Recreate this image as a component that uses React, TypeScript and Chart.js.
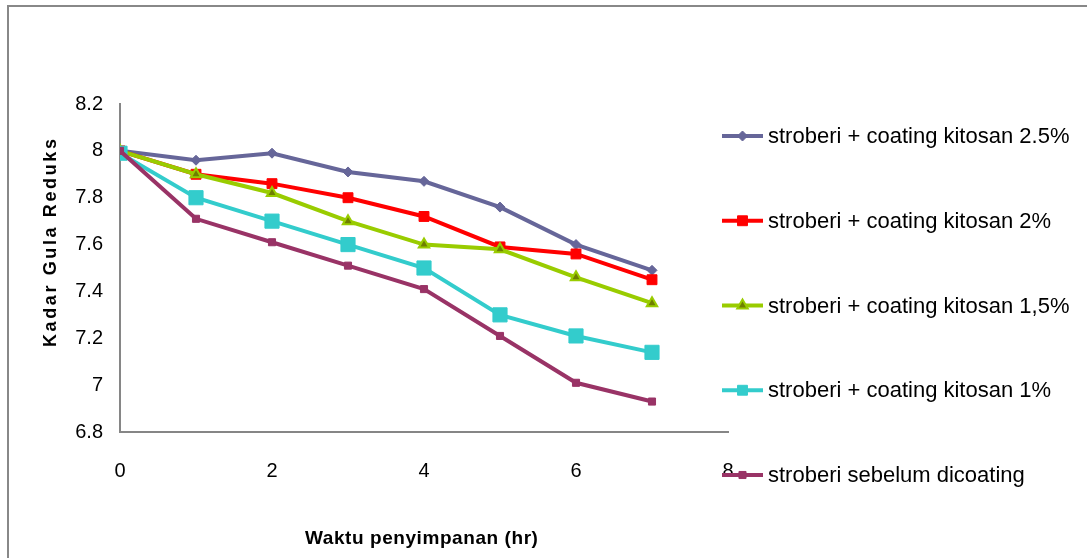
import React, { useEffect, useRef } from "react";
import { Chart, registerables } from "chart.js";

Chart.register(...registerables);

// ---- data ----
const days = [0, 1, 2, 3, 4, 5, 6, 7];
const seriesNames = [
  "stroberi + coating kitosan 2.5%",
  "stroberi + coating kitosan 2%",
  "stroberi + coating kitosan 1,5%",
  "stroberi + coating kitosan 1%",
  "stroberi sebelum dicoating",
];
const kitosan25 = [8.0, 7.96, 7.99, 7.91, 7.87, 7.76, 7.6, 7.49];
const kitosan20 = [8.0, 7.9, 7.86, 7.8, 7.72, 7.59, 7.56, 7.45];
const kitosan15 = [8.0, 7.9, 7.82, 7.7, 7.6, 7.58, 7.46, 7.35];
const kitosan10 = [7.99, 7.8, 7.7, 7.6, 7.5, 7.3, 7.21, 7.14];
const tanpaCoating = [8.0, 7.71, 7.61, 7.51, 7.41, 7.21, 7.01, 6.93];
const xTickValues = [0, 2, 4, 6, 8];
const yTickValues = [6.8, 7.0, 7.2, 7.4, 7.6, 7.8, 8.0, 8.2];
const xTitle = "Waktu penyimpanan (hr)";
const yTitle = "Kadar Gula Reduks";

// ---- styles ----
const W = 1087;
const H = 558;
const colors = ["#666699", "#FF0000", "#99CC00", "#33CCCC", "#993366"];
const pointFill = ["#666699", "#FF0000", "#6E7F00", "#33CCCC", "#993366"];
const pointStyles = ["rectRot", "rect", "triangle", "rect", "rect"];
const pointRadii = [5, 7, 6, 10, 5];
const FONT = '"Liberation Sans", Arial, sans-serif';

function fitSpacing(ctx: CanvasRenderingContext2D, text: string, target: number) {
  (ctx as any).letterSpacing = "0px";
  const w = ctx.measureText(text).width;
  const sp = Math.max(-1, (target - w) / Math.max(1, text.length - 1));
  (ctx as any).letterSpacing = sp.toFixed(2) + "px";
  return sp;
}

function drawMarker(ctx: CanvasRenderingContext2D, i: number, x: number, y: number, r: number) {
  ctx.save();
  ctx.fillStyle = pointFill[i];
  ctx.strokeStyle = colors[i];
  ctx.lineWidth = i === 2 ? 2 : 1;
  ctx.beginPath();
  const st = pointStyles[i];
  if (st === "rect") {
    const s = Math.SQRT1_2 * r;
    ctx.rect(x - s, y - s, 2 * s, 2 * s);
  } else if (st === "rectRot") {
    ctx.moveTo(x - r, y);
    ctx.lineTo(x, y - r);
    ctx.lineTo(x + r, y);
    ctx.lineTo(x, y + r);
    ctx.closePath();
  } else {
    ctx.moveTo(x, y - r);
    ctx.lineTo(x + r * 0.87, y + r * 0.5);
    ctx.lineTo(x - r * 0.87, y + r * 0.5);
    ctx.closePath();
  }
  ctx.fill();
  ctx.stroke();
  ctx.restore();
}

const decorPlugin = {
  id: "decor",
  beforeDraw(chart: any) {
    const ctx: CanvasRenderingContext2D = chart.ctx;
    ctx.save();
    ctx.fillStyle = "#ffffff";
    ctx.fillRect(0, 0, W, H);
    ctx.strokeStyle = "#888888";
    ctx.lineWidth = 2;
    ctx.beginPath();
    ctx.moveTo(8, H);
    ctx.lineTo(8, 6);
    ctx.lineTo(W, 6);
    ctx.stroke();
    ctx.restore();
  },
  afterDraw(chart: any) {
    const ctx: CanvasRenderingContext2D = chart.ctx;
    const area = chart.chartArea;
    // axis titles
    ctx.save();
    ctx.fillStyle = "#000000";
    ctx.font = "bold 19px " + FONT;
    ctx.textAlign = "left";
    ctx.textBaseline = "middle";
    fitSpacing(ctx, xTitle, 233);
    ctx.fillText(xTitle, 305, 539);
    ctx.restore();

    ctx.save();
    ctx.fillStyle = "#000000";
    ctx.font = "bold 18px " + FONT;
    ctx.translate(51, 347);
    ctx.rotate(-Math.PI / 2);
    ctx.textAlign = "left";
    ctx.textBaseline = "middle";
    fitSpacing(ctx, yTitle, 208);
    ctx.fillText(yTitle, 0, 0);
    ctx.restore();

    // legend
    const lx0 = area.right - 6;
    const lx1 = lx0 + 41;
    const tx = lx1 + 5;
    const top = 136;
    const gap = 84.75;
    seriesNames.forEach((name, i) => {
      const y = top + gap * i;
      ctx.save();
      ctx.strokeStyle = colors[i];
      ctx.lineWidth = 4;
      ctx.beginPath();
      ctx.moveTo(lx0, y);
      ctx.lineTo(lx1, y);
      ctx.stroke();
      ctx.restore();
      drawMarker(ctx, i, (lx0 + lx1) / 2, y, Math.min(pointRadii[i], 7));
      ctx.save();
      ctx.fillStyle = "#000000";
      ctx.font = "22px " + FONT;
      ctx.textAlign = "left";
      ctx.textBaseline = "middle";
      fitSpacing(ctx, name, ctx.measureText(name).width);
      ctx.fillText(name, tx, y + 1);
      ctx.restore();
    });
  },
};

export default function App() {
  const ref = useRef<HTMLCanvasElement | null>(null);

  useEffect(() => {
    document.body.style.margin = "0";
    const canvas = ref.current;
    if (!canvas) return;
    const allSeries = [kitosan25, kitosan20, kitosan15, kitosan10, tanpaCoating];
    const chart = new Chart(canvas, {
      type: "line",
      data: {
        datasets: allSeries.map((vals, i) => ({
          label: seriesNames[i],
          data: days.map((d, k) => ({ x: d, y: vals[k] })),
          borderColor: colors[i],
          backgroundColor: pointFill[i],
          borderWidth: 4,
          pointStyle: pointStyles[i] as any,
          pointRadius: pointRadii[i],
          pointBackgroundColor: pointFill[i],
          pointBorderColor: colors[i],
          pointBorderWidth: i === 2 ? 2 : 1,
          tension: 0,
          order: allSeries.length - 1 - i,
        })),
      },
      options: {
        responsive: false,
        animation: false,
        devicePixelRatio: 1,
        layout: { padding: { left: 0, top: 104, right: W - 728, bottom: 0 } },
        plugins: {
          legend: { display: false },
          tooltip: { enabled: false },
          title: { display: false },
        },
        scales: {
          x: {
            type: "linear",
            min: 0,
            max: 8,
            afterBuildTicks: (axis: any) => {
              axis.ticks = xTickValues.map((v) => ({ value: v }));
            },
            afterFit: (axis: any) => {
              axis.height = H - 432;
            },
            grid: { display: false, drawTicks: false },
            border: { display: true, color: "#868686", width: 2 },
            ticks: {
              color: "#000000",
              padding: 27,
              maxRotation: 0,
              font: { family: FONT, size: 20 },
              callback: (v: any) => String(v),
            },
          },
          y: {
            type: "linear",
            min: 6.8,
            max: 8.2,
            afterBuildTicks: (axis: any) => {
              axis.ticks = yTickValues.map((v) => ({ value: v }));
            },
            afterFit: (axis: any) => {
              axis.width = 120;
            },
            grid: { display: false, drawTicks: false },
            border: { display: true, color: "#868686", width: 2 },
            ticks: {
              color: "#000000",
              padding: 17,
              font: { family: FONT, size: 20 },
              callback: (v: any) => String(Number(Number(v).toFixed(1))),
            },
          },
        },
      },
      plugins: [decorPlugin],
    });
    return () => chart.destroy();
  }, []);

  return (
    <div style={{ width: W, height: H }}>
      <canvas ref={ref} width={W} height={H} style={{ display: "block" }} />
    </div>
  );
}
